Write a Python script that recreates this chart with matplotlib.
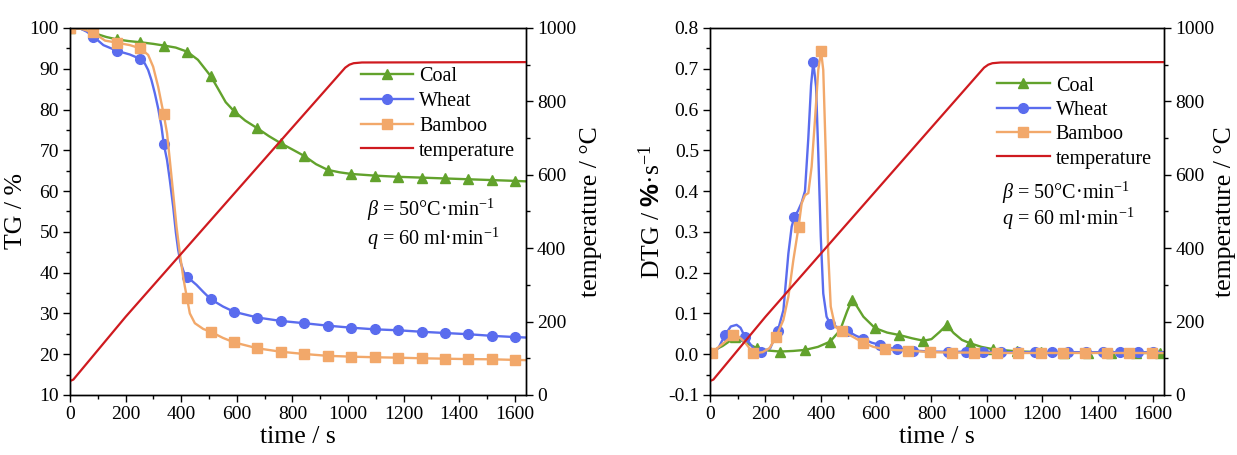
#!/usr/bin/env python3

import matplotlib

matplotlib.use("Agg")
import matplotlib.pyplot as plt
import numpy as np
from matplotlib.lines import Line2D
from matplotlib.ticker import MultipleLocator

plt.rcParams["font.family"] = ["Liberation Serif", "DejaVu Serif"]
plt.rcParams["mathtext.fontset"] = "custom"
plt.rcParams["mathtext.rm"] = "Liberation Serif"
plt.rcParams["mathtext.it"] = "Liberation Serif:italic"
plt.rcParams["mathtext.bf"] = "Liberation Sans:bold"

# ---- TG (mass loss, %) ----
coal_tg_t = [0, 40, 84, 130, 169, 210, 253, 300, 337, 380, 421, 460, 490, 506, 530, 560, 590, 630,
             674, 715, 759, 800, 843, 885, 927, 970, 1012, 1096, 1180, 1265, 1349, 1433, 1518, 1602, 1637]
coal_tg = [100, 99.8, 98.8, 97.8, 97.2, 96.8, 96.5, 96.1, 95.7, 95.2, 94.2, 92.2, 89.6, 88.2, 85.4, 81.8,
           79.6, 77.3, 75.4, 73.5, 71.7, 70.2, 68.6, 66.6, 65.2, 64.6, 64.2, 63.8, 63.5, 63.3, 63.1, 62.9,
           62.7, 62.5, 62.4]

wheat_tg_t = [0, 36, 60, 84, 120, 169, 215, 253, 269, 281, 293, 305, 317, 329, 337, 349, 359, 371, 381,
              389, 397, 409, 421, 455, 479, 506, 550, 590, 674, 759, 843, 927, 1012, 1096, 1180, 1265,
              1349, 1433, 1518, 1602, 1637]
wheat_tg = [100, 99.9, 99.1, 97.9, 95.8, 94.4, 93.5, 92.4, 91.3, 89.7, 87.2, 84.0, 80.3, 75.8, 71.6, 67.6,
            62.7, 56.2, 49.7, 45.6, 42.7, 40.2, 39.0, 37.0, 35.3, 33.5, 31.7, 30.4, 29.0, 28.15, 27.6,
            27.0, 26.5, 26.1, 25.87, 25.5, 25.2, 24.9, 24.5, 24.2, 24.1]

bamboo_tg_t = [0, 40, 84, 126, 169, 215, 253, 281, 299, 317, 329, 337, 349, 359, 371, 383, 395, 407, 413,
               421, 431, 449, 479, 506, 550, 590, 674, 759, 843, 927, 1012, 1096, 1180, 1265, 1349, 1433,
               1518, 1602, 1637]
bamboo_tg = [100, 99.8, 98.9, 96.9, 96.4, 95.8, 95.0, 93.4, 90.5, 85.6, 81.5, 78.8, 74.2, 67.6, 59.5,
             51.3, 44.7, 39.0, 36.6, 33.7, 30.0, 27.6, 26.2, 25.5, 24.0, 22.9, 21.45, 20.6, 20.05, 19.6,
             19.4, 19.25, 19.15, 19.0, 18.9, 18.8, 18.75, 18.6, 18.55]

tg_marker_t = [0, 84, 169, 253, 337, 421, 506, 590, 674, 759, 843, 927, 1012, 1096, 1180, 1265, 1349,
               1433, 1518, 1602]

# ---- DTG (%/s) ----
coal_dtg_t = [0, 45, 90, 130, 169, 210, 253, 300, 343, 390, 434, 470, 495, 512, 530, 554, 596, 640, 684,
              730, 771, 800, 830, 855, 880, 910, 939, 980, 1024, 1110, 1195, 1280, 1365, 1450, 1540, 1625, 1640]
coal_dtg = [0.005, 0.02, 0.041, 0.028, 0.015, 0.009, 0.0065, 0.008, 0.0105, 0.018, 0.031, 0.059, 0.105,
            0.132, 0.118, 0.092, 0.064, 0.053, 0.047, 0.039, 0.033, 0.037, 0.055, 0.072, 0.052, 0.035,
            0.027, 0.018, 0.012, 0.007, 0.005, 0.004, 0.004, 0.004, 0.003, 0.003, 0.003]
coal_dtg_marker_t = [0, 90, 169, 253, 343, 434, 512, 596, 684, 771, 855, 939, 1024, 1110, 1195, 1280,
                     1365, 1450, 1540, 1625]

wheat_dtg_t = [0, 6, 30, 54, 75, 96, 110, 126, 157, 184, 217, 245, 265, 283, 295, 305, 318, 331, 343, 355,
               365, 373, 383, 391, 400, 409, 421, 434, 470, 494, 525, 554, 585, 614, 645, 674, 734, 795,
               860, 925, 987, 1050, 1114, 1174, 1234, 1294, 1358, 1421, 1481, 1547, 1601, 1640]
wheat_dtg = [0.0, 0.004, 0.015, 0.047, 0.068, 0.072, 0.065, 0.043, 0.014, 0.006, 0.014, 0.058, 0.108,
             0.247, 0.313, 0.337, 0.352, 0.372, 0.40, 0.53, 0.66, 0.717, 0.656, 0.493, 0.288, 0.149, 0.092,
             0.075, 0.063, 0.058, 0.046, 0.037, 0.028, 0.023, 0.016, 0.012, 0.009, 0.0065, 0.006, 0.006,
             0.006, 0.005, 0.005, 0.005, 0.005, 0.005, 0.005, 0.005, 0.005, 0.005, 0.005, 0.005]
wheat_dtg_marker_t = [6, 54, 126, 184, 245, 305, 373, 434, 494, 554, 614, 674, 734, 795, 860, 925, 987,
                      1050, 1114, 1174, 1234, 1294, 1358, 1421, 1481, 1547, 1601]

bamboo_dtg_t = [0, 6, 45, 84, 100, 125, 157, 190, 215, 238, 265, 283, 301, 320, 331, 343, 355, 367, 379,
                391, 401, 409, 418, 427, 436, 452, 476, 515, 554, 590, 632, 675, 716, 795, 873, 953, 1036,
                1114, 1195, 1275, 1355, 1433, 1515, 1596, 1640]
bamboo_dtg = [0.0, 0.004, 0.025, 0.047, 0.045, 0.03, 0.002, 0.005, 0.015, 0.041, 0.084, 0.141, 0.231,
              0.313, 0.370, 0.390, 0.395, 0.46, 0.574, 0.697, 0.743, 0.697, 0.493, 0.247, 0.117, 0.067,
              0.057, 0.043, 0.028, 0.018, 0.012, 0.010, 0.009, 0.005, 0.004, 0.004, 0.003, 0.003, 0.003,
              0.003, 0.003, 0.003, 0.003, 0.003, 0.003]
bamboo_dtg_marker_t = [6, 84, 157, 238, 320, 401, 476, 554, 632, 716, 795, 873, 953, 1036, 1114, 1195,
                       1275, 1355, 1433, 1515, 1596]

# ---- furnace temperature (°C) ----
temp_t = [0, 12, 200, 400, 600, 800, 990, 1005, 1020, 1050, 1640]
temp_c = [38, 42, 213, 385, 557, 729, 892, 900, 904, 906, 907]

COAL = "#62a22c"
WHEAT = "#5a6cee"
BAMBOO = "#f2a86a"
TEMP = "#cf1a1f"

TICK_FS = 14
LABEL_FS = 18.5
LEGEND_FS = 14.5


def marker_idx(t, marker_t):
    return list(np.nonzero(np.isin(t, marker_t))[0])


def style_axes(ax, tx, temp_pad):
    ax.set_xlim(0, 1640)
    ax.xaxis.set_major_locator(MultipleLocator(200))
    ax.xaxis.set_minor_locator(MultipleLocator(100))
    ax.tick_params(which="both", direction="out", top=False, labelsize=TICK_FS, width=1.0)
    ax.tick_params(which="major", length=5, pad=3)
    ax.tick_params(which="minor", length=3)
    tx.set_ylim(0, 1000)
    tx.yaxis.set_major_locator(MultipleLocator(200))
    tx.yaxis.set_minor_locator(MultipleLocator(100))
    tx.tick_params(which="both", direction="out", labelsize=TICK_FS, width=1.0)
    tx.tick_params(which="major", length=5, pad=3)
    tx.tick_params(which="minor", length=3)
    tx.set_ylabel("temperature / °C", fontsize=LABEL_FS, labelpad=temp_pad)
    ax.set_xlabel("time / s", fontsize=LABEL_FS, labelpad=2)
    for a in (ax, tx):
        for s in a.spines.values():
            s.set_linewidth(1.0)


def draw_panel(ax, series, marker_sets):
    handles = []
    for (t, y, color, mk, ms, label), mt in zip(series, marker_sets):
        ax.plot(t, y, color=color, lw=1.7, marker=mk, ms=ms, markevery=marker_idx(t, mt))
        handles.append(Line2D([], [], color=color, lw=1.7, marker=mk, ms=ms, label=label))
    tx = ax.twinx()
    tx.plot(temp_t, temp_c, color=TEMP, lw=1.6)
    handles.append(Line2D([], [], color=TEMP, lw=1.6, label="temperature"))
    return tx, handles


fig = plt.figure(figsize=(12.37, 4.55), dpi=100)
ax1 = fig.add_axes([0.0566, 0.1319, 0.3686, 0.8066])
ax2 = fig.add_axes([0.5740, 0.1319, 0.3670, 0.8066])

# left: TG
tx1, h1 = draw_panel(
    ax1,
    [(coal_tg_t, coal_tg, COAL, "^", 7, "Coal"),
     (wheat_tg_t, wheat_tg, WHEAT, "o", 7, "Wheat"),
     (bamboo_tg_t, bamboo_tg, BAMBOO, "s", 6.5, "Bamboo")],
    [tg_marker_t, tg_marker_t, tg_marker_t],
)
ax1.set_ylim(10, 100)
ax1.yaxis.set_major_locator(MultipleLocator(10))
ax1.yaxis.set_minor_locator(MultipleLocator(5))
ax1.set_ylabel("TG / %", fontsize=LABEL_FS, labelpad=2)
style_axes(ax1, tx1, 3)
ax1.legend(handles=h1, loc="upper left", bbox_to_anchor=(0.62, 0.915), frameon=False,
           fontsize=LEGEND_FS, handlelength=2.6, handletextpad=0.3, labelspacing=0.28,
           borderaxespad=0, numpoints=1)
ax1.text(0.652, 0.505, r"$\beta$ = 50°C·min$^{-1}$", transform=ax1.transAxes,
         fontsize=LEGEND_FS, va="center")
ax1.text(0.652, 0.425, r"$q$ = 60 ml·min$^{-1}$", transform=ax1.transAxes,
         fontsize=LEGEND_FS, va="center")

# right: DTG
tx2, h2 = draw_panel(
    ax2,
    [(coal_dtg_t, coal_dtg, COAL, "^", 7, "Coal"),
     (wheat_dtg_t, wheat_dtg, WHEAT, "o", 7, "Wheat"),
     (bamboo_dtg_t, bamboo_dtg, BAMBOO, "s", 6.5, "Bamboo")],
    [coal_dtg_marker_t, wheat_dtg_marker_t, bamboo_dtg_marker_t],
)
ax2.set_ylim(-0.1, 0.8)
ax2.yaxis.set_major_locator(MultipleLocator(0.1))
ax2.yaxis.set_minor_locator(MultipleLocator(0.05))
ax2.yaxis.set_major_formatter(lambda v, _: f"{v:.1f}")
ax2.set_ylabel(r"DTG / $\mathbf{\%}$·s$^{-1}$", fontsize=LABEL_FS, labelpad=2)
style_axes(ax2, tx2, 0)
ax2.legend(handles=h2, loc="upper left", bbox_to_anchor=(0.615, 0.89), frameon=False,
           fontsize=LEGEND_FS, handlelength=2.6, handletextpad=0.3, labelspacing=0.26,
           borderaxespad=0, numpoints=1)
ax2.text(0.643, 0.55, r"$\beta$ = 50°C·min$^{-1}$", transform=ax2.transAxes,
         fontsize=LEGEND_FS, va="center")
ax2.text(0.643, 0.48, r"$q$ = 60 ml·min$^{-1}$", transform=ax2.transAxes,
         fontsize=LEGEND_FS, va="center")

fig.savefig("out.png", dpi=100)
